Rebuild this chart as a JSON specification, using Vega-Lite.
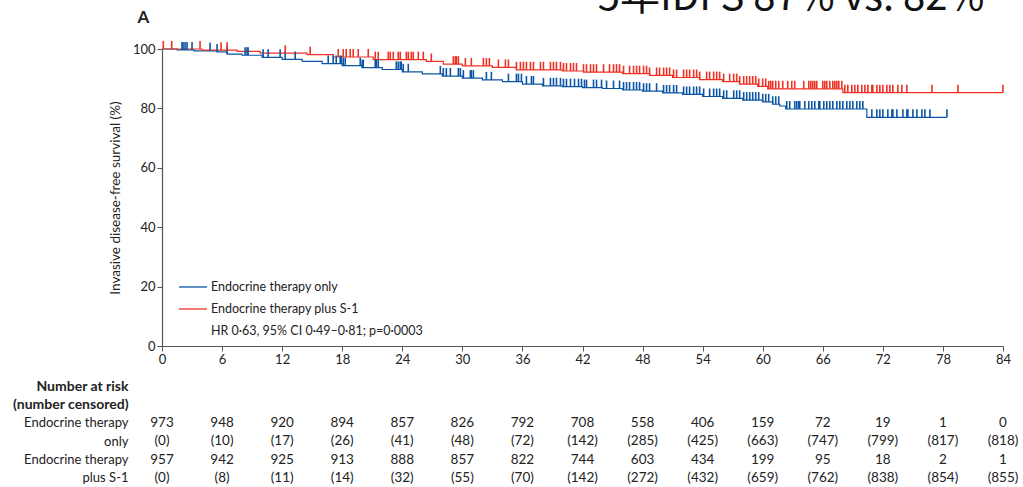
{
"$schema": "https://vega.github.io/schema/vega-lite/v6.json",
"autosize": "none",
"padding": {"left": 162, "top": 49, "right": 861, "bottom": 438},
"title": {"text": "5年IDFS 87% vs. 82%", "font": "Noto Sans CJK SC", "fontSize": 40, "fontWeight": "normal", "anchor": "end", "color": "#111", "dx": -34, "dy": 13},
"datasets": {
"km": [
{"arm":"Endocrine therapy only","t":0,"s":100},{"arm":"Endocrine therapy only","t":1.5,"s":99.7},{"arm":"Endocrine therapy only","t":3.2,"s":99.4},{"arm":"Endocrine therapy only","t":5.5,"s":99.0},{"arm":"Endocrine therapy only","t":6.5,"s":98.3},{"arm":"Endocrine therapy only","t":8,"s":97.9},{"arm":"Endocrine therapy only","t":10,"s":97.2},{"arm":"Endocrine therapy only","t":12,"s":96.5},{"arm":"Endocrine therapy only","t":14,"s":95.8},{"arm":"Endocrine therapy only","t":16,"s":95.1},{"arm":"Endocrine therapy only","t":18,"s":94.4},{"arm":"Endocrine therapy only","t":20,"s":93.7},{"arm":"Endocrine therapy only","t":22,"s":93.1},{"arm":"Endocrine therapy only","t":24,"s":92.3},{"arm":"Endocrine therapy only","t":26,"s":91.6},{"arm":"Endocrine therapy only","t":28,"s":90.9},{"arm":"Endocrine therapy only","t":30,"s":90.2},{"arm":"Endocrine therapy only","t":32,"s":89.6},{"arm":"Endocrine therapy only","t":34,"s":89.0},{"arm":"Endocrine therapy only","t":36,"s":88.2},{"arm":"Endocrine therapy only","t":38,"s":87.6},{"arm":"Endocrine therapy only","t":40,"s":87.3},{"arm":"Endocrine therapy only","t":42,"s":87.0},{"arm":"Endocrine therapy only","t":44,"s":86.7},{"arm":"Endocrine therapy only","t":46,"s":86.2},{"arm":"Endocrine therapy only","t":48,"s":85.8},{"arm":"Endocrine therapy only","t":50,"s":85.2},{"arm":"Endocrine therapy only","t":52,"s":84.7},{"arm":"Endocrine therapy only","t":54,"s":84.0},{"arm":"Endocrine therapy only","t":56,"s":83.4},{"arm":"Endocrine therapy only","t":58,"s":82.8},{"arm":"Endocrine therapy only","t":60,"s":82.2},{"arm":"Endocrine therapy only","t":61,"s":81.4},{"arm":"Endocrine therapy only","t":61.7,"s":80.8},{"arm":"Endocrine therapy only","t":62.3,"s":79.8},{"arm":"Endocrine therapy only","t":70.4,"s":77.0},{"arm":"Endocrine therapy only","t":78.4,"s":77.0},
{"arm":"Endocrine therapy plus S-1","t":0,"s":100},{"arm":"Endocrine therapy plus S-1","t":4,"s":99.6},{"arm":"Endocrine therapy plus S-1","t":7.5,"s":99.2},{"arm":"Endocrine therapy plus S-1","t":9.8,"s":98.6},{"arm":"Endocrine therapy plus S-1","t":14.5,"s":98.1},{"arm":"Endocrine therapy plus S-1","t":17.1,"s":97.3},{"arm":"Endocrine therapy plus S-1","t":21.1,"s":96.4},{"arm":"Endocrine therapy plus S-1","t":26.4,"s":95.8},{"arm":"Endocrine therapy plus S-1","t":28.1,"s":94.9},{"arm":"Endocrine therapy plus S-1","t":30,"s":94.3},{"arm":"Endocrine therapy plus S-1","t":33,"s":93.8},{"arm":"Endocrine therapy plus S-1","t":35.4,"s":93.0},{"arm":"Endocrine therapy plus S-1","t":40,"s":92.6},{"arm":"Endocrine therapy plus S-1","t":42.1,"s":92.2},{"arm":"Endocrine therapy plus S-1","t":46,"s":91.7},{"arm":"Endocrine therapy plus S-1","t":48.7,"s":91.1},{"arm":"Endocrine therapy plus S-1","t":51,"s":90.4},{"arm":"Endocrine therapy plus S-1","t":53.7,"s":89.7},{"arm":"Endocrine therapy plus S-1","t":56,"s":89.0},{"arm":"Endocrine therapy plus S-1","t":57.7,"s":88.2},{"arm":"Endocrine therapy plus S-1","t":59.5,"s":87.4},{"arm":"Endocrine therapy plus S-1","t":60.5,"s":86.6},{"arm":"Endocrine therapy plus S-1","t":68,"s":85.3},{"arm":"Endocrine therapy plus S-1","t":84,"s":85.3}
],
"cens": [
{"arm":"Endocrine therapy only","t":2.0,"s":99.7},{"arm":"Endocrine therapy only","t":2.1,"s":99.7},{"arm":"Endocrine therapy only","t":2.3,"s":99.7},{"arm":"Endocrine therapy only","t":2.5,"s":99.7},{"arm":"Endocrine therapy only","t":3.0,"s":99.7},{"arm":"Endocrine therapy only","t":4.8,"s":99.4},{"arm":"Endocrine therapy only","t":5.5,"s":99.0},{"arm":"Endocrine therapy only","t":6.5,"s":98.3},{"arm":"Endocrine therapy only","t":8.3,"s":97.9},{"arm":"Endocrine therapy only","t":8.5,"s":97.9},{"arm":"Endocrine therapy only","t":8.6,"s":97.9},{"arm":"Endocrine therapy only","t":10.1,"s":97.2},{"arm":"Endocrine therapy only","t":10.6,"s":97.2},{"arm":"Endocrine therapy only","t":11.8,"s":97.2},{"arm":"Endocrine therapy only","t":12.3,"s":96.5},{"arm":"Endocrine therapy only","t":13.3,"s":96.5},{"arm":"Endocrine therapy only","t":16.6,"s":95.1},{"arm":"Endocrine therapy only","t":17.1,"s":95.1},{"arm":"Endocrine therapy only","t":17.4,"s":95.1},{"arm":"Endocrine therapy only","t":17.8,"s":95.1},{"arm":"Endocrine therapy only","t":17.9,"s":95.1},{"arm":"Endocrine therapy only","t":18.1,"s":94.4},{"arm":"Endocrine therapy only","t":18.3,"s":94.4},{"arm":"Endocrine therapy only","t":19.8,"s":94.4},{"arm":"Endocrine therapy only","t":20.0,"s":93.7},{"arm":"Endocrine therapy only","t":20.1,"s":93.7},{"arm":"Endocrine therapy only","t":21.3,"s":93.7},{"arm":"Endocrine therapy only","t":21.4,"s":93.7},{"arm":"Endocrine therapy only","t":21.6,"s":93.7},{"arm":"Endocrine therapy only","t":23.4,"s":93.1},{"arm":"Endocrine therapy only","t":23.6,"s":93.1},{"arm":"Endocrine therapy only","t":23.8,"s":93.1},{"arm":"Endocrine therapy only","t":23.9,"s":93.1},{"arm":"Endocrine therapy only","t":24.1,"s":92.3},{"arm":"Endocrine therapy only","t":24.6,"s":92.3},{"arm":"Endocrine therapy only","t":27.8,"s":91.6},{"arm":"Endocrine therapy only","t":28.1,"s":90.9},{"arm":"Endocrine therapy only","t":28.4,"s":90.9},{"arm":"Endocrine therapy only","t":28.8,"s":90.9},{"arm":"Endocrine therapy only","t":29.6,"s":90.9},{"arm":"Endocrine therapy only","t":29.8,"s":90.9},{"arm":"Endocrine therapy only","t":30.1,"s":90.2},{"arm":"Endocrine therapy only","t":30.8,"s":90.2},{"arm":"Endocrine therapy only","t":30.9,"s":90.2},{"arm":"Endocrine therapy only","t":31.1,"s":90.2},{"arm":"Endocrine therapy only","t":32.4,"s":89.6},{"arm":"Endocrine therapy only","t":32.9,"s":89.6},{"arm":"Endocrine therapy only","t":34.6,"s":89.0},{"arm":"Endocrine therapy only","t":35.4,"s":89.0},{"arm":"Endocrine therapy only","t":35.6,"s":89.0},{"arm":"Endocrine therapy only","t":35.9,"s":89.0},{"arm":"Endocrine therapy only","t":36.4,"s":88.2},{"arm":"Endocrine therapy only","t":36.9,"s":88.2},{"arm":"Endocrine therapy only","t":37.1,"s":88.2},{"arm":"Endocrine therapy only","t":38.1,"s":87.6},{"arm":"Endocrine therapy only","t":38.8,"s":87.6},{"arm":"Endocrine therapy only","t":39.1,"s":87.6},{"arm":"Endocrine therapy only","t":39.4,"s":87.6},{"arm":"Endocrine therapy only","t":39.8,"s":87.6},{"arm":"Endocrine therapy only","t":40.1,"s":87.3},{"arm":"Endocrine therapy only","t":40.4,"s":87.3},{"arm":"Endocrine therapy only","t":40.8,"s":87.3},{"arm":"Endocrine therapy only","t":41.2,"s":87.3},{"arm":"Endocrine therapy only","t":41.6,"s":87.3},{"arm":"Endocrine therapy only","t":41.9,"s":87.3},{"arm":"Endocrine therapy only","t":42.2,"s":87.0},{"arm":"Endocrine therapy only","t":42.4,"s":87.0},{"arm":"Endocrine therapy only","t":43.1,"s":87.0},{"arm":"Endocrine therapy only","t":43.4,"s":87.0},{"arm":"Endocrine therapy only","t":43.9,"s":87.0},{"arm":"Endocrine therapy only","t":44.4,"s":86.7},{"arm":"Endocrine therapy only","t":45.1,"s":86.7},{"arm":"Endocrine therapy only","t":45.7,"s":86.7},{"arm":"Endocrine therapy only","t":46.1,"s":86.2},{"arm":"Endocrine therapy only","t":46.4,"s":86.2},{"arm":"Endocrine therapy only","t":46.7,"s":86.2},{"arm":"Endocrine therapy only","t":47.1,"s":86.2},{"arm":"Endocrine therapy only","t":47.4,"s":86.2},{"arm":"Endocrine therapy only","t":47.7,"s":86.2},{"arm":"Endocrine therapy only","t":48.1,"s":85.8},{"arm":"Endocrine therapy only","t":48.4,"s":85.8},{"arm":"Endocrine therapy only","t":48.7,"s":85.8},{"arm":"Endocrine therapy only","t":49.4,"s":85.8},{"arm":"Endocrine therapy only","t":50.1,"s":85.2},{"arm":"Endocrine therapy only","t":50.4,"s":85.2},{"arm":"Endocrine therapy only","t":50.7,"s":85.2},{"arm":"Endocrine therapy only","t":51.1,"s":85.2},{"arm":"Endocrine therapy only","t":51.4,"s":85.2},{"arm":"Endocrine therapy only","t":52.1,"s":84.7},{"arm":"Endocrine therapy only","t":52.4,"s":84.7},{"arm":"Endocrine therapy only","t":52.7,"s":84.7},{"arm":"Endocrine therapy only","t":53.1,"s":84.7},{"arm":"Endocrine therapy only","t":53.4,"s":84.7},{"arm":"Endocrine therapy only","t":53.7,"s":84.7},{"arm":"Endocrine therapy only","t":54.1,"s":84.0},{"arm":"Endocrine therapy only","t":54.7,"s":84.0},{"arm":"Endocrine therapy only","t":55.1,"s":84.0},{"arm":"Endocrine therapy only","t":55.4,"s":84.0},{"arm":"Endocrine therapy only","t":55.7,"s":84.0},{"arm":"Endocrine therapy only","t":56.1,"s":83.4},{"arm":"Endocrine therapy only","t":56.4,"s":83.4},{"arm":"Endocrine therapy only","t":57.1,"s":83.4},{"arm":"Endocrine therapy only","t":57.4,"s":83.4},{"arm":"Endocrine therapy only","t":57.7,"s":83.4},{"arm":"Endocrine therapy only","t":58.1,"s":82.8},{"arm":"Endocrine therapy only","t":58.4,"s":82.8},{"arm":"Endocrine therapy only","t":58.7,"s":82.8},{"arm":"Endocrine therapy only","t":59.0,"s":82.8},{"arm":"Endocrine therapy only","t":59.3,"s":82.8},{"arm":"Endocrine therapy only","t":59.6,"s":82.8},{"arm":"Endocrine therapy only","t":60.0,"s":82.2},{"arm":"Endocrine therapy only","t":60.3,"s":82.2},{"arm":"Endocrine therapy only","t":60.6,"s":82.2},{"arm":"Endocrine therapy only","t":61.0,"s":81.4},{"arm":"Endocrine therapy only","t":61.3,"s":81.4},{"arm":"Endocrine therapy only","t":61.6,"s":81.4},{"arm":"Endocrine therapy only","t":62.4,"s":79.8},{"arm":"Endocrine therapy only","t":62.7,"s":79.8},{"arm":"Endocrine therapy only","t":63.2,"s":79.8},{"arm":"Endocrine therapy only","t":63.4,"s":79.8},{"arm":"Endocrine therapy only","t":63.6,"s":79.8},{"arm":"Endocrine therapy only","t":63.7,"s":79.8},{"arm":"Endocrine therapy only","t":64.2,"s":79.8},{"arm":"Endocrine therapy only","t":64.6,"s":79.8},{"arm":"Endocrine therapy only","t":64.9,"s":79.8},{"arm":"Endocrine therapy only","t":65.2,"s":79.8},{"arm":"Endocrine therapy only","t":65.6,"s":79.8},{"arm":"Endocrine therapy only","t":65.7,"s":79.8},{"arm":"Endocrine therapy only","t":66.1,"s":79.8},{"arm":"Endocrine therapy only","t":66.4,"s":79.8},{"arm":"Endocrine therapy only","t":66.7,"s":79.8},{"arm":"Endocrine therapy only","t":67.0,"s":79.8},{"arm":"Endocrine therapy only","t":67.4,"s":79.8},{"arm":"Endocrine therapy only","t":67.7,"s":79.8},{"arm":"Endocrine therapy only","t":68.0,"s":79.8},{"arm":"Endocrine therapy only","t":68.4,"s":79.8},{"arm":"Endocrine therapy only","t":68.7,"s":79.8},{"arm":"Endocrine therapy only","t":69.0,"s":79.8},{"arm":"Endocrine therapy only","t":69.4,"s":79.8},{"arm":"Endocrine therapy only","t":69.7,"s":79.8},{"arm":"Endocrine therapy only","t":70.0,"s":79.8},{"arm":"Endocrine therapy only","t":70.9,"s":77.0},{"arm":"Endocrine therapy only","t":71.4,"s":77.0},{"arm":"Endocrine therapy only","t":71.7,"s":77.0},{"arm":"Endocrine therapy only","t":72.0,"s":77.0},{"arm":"Endocrine therapy only","t":72.5,"s":77.0},{"arm":"Endocrine therapy only","t":72.9,"s":77.0},{"arm":"Endocrine therapy only","t":73.0,"s":77.0},{"arm":"Endocrine therapy only","t":73.4,"s":77.0},{"arm":"Endocrine therapy only","t":74.0,"s":77.0},{"arm":"Endocrine therapy only","t":74.4,"s":77.0},{"arm":"Endocrine therapy only","t":74.5,"s":77.0},{"arm":"Endocrine therapy only","t":75.0,"s":77.0},{"arm":"Endocrine therapy only","t":75.4,"s":77.0},{"arm":"Endocrine therapy only","t":75.9,"s":77.0},{"arm":"Endocrine therapy only","t":76.2,"s":77.0},{"arm":"Endocrine therapy only","t":76.7,"s":77.0},{"arm":"Endocrine therapy only","t":78.4,"s":77.0},
{"arm":"Endocrine therapy plus S-1","t":0.13,"s":100},{"arm":"Endocrine therapy plus S-1","t":0.97,"s":100},{"arm":"Endocrine therapy plus S-1","t":3.8,"s":100},{"arm":"Endocrine therapy plus S-1","t":5.9,"s":99.6},{"arm":"Endocrine therapy plus S-1","t":6.5,"s":99.6},{"arm":"Endocrine therapy plus S-1","t":12.3,"s":98.6},{"arm":"Endocrine therapy plus S-1","t":14.8,"s":98.1},{"arm":"Endocrine therapy plus S-1","t":17.6,"s":97.3},{"arm":"Endocrine therapy plus S-1","t":18.1,"s":97.3},{"arm":"Endocrine therapy plus S-1","t":18.4,"s":97.3},{"arm":"Endocrine therapy plus S-1","t":18.8,"s":97.3},{"arm":"Endocrine therapy plus S-1","t":19.1,"s":97.3},{"arm":"Endocrine therapy plus S-1","t":19.6,"s":97.3},{"arm":"Endocrine therapy plus S-1","t":20.6,"s":97.3},{"arm":"Endocrine therapy plus S-1","t":21.3,"s":96.4},{"arm":"Endocrine therapy plus S-1","t":21.6,"s":96.4},{"arm":"Endocrine therapy plus S-1","t":22.6,"s":96.4},{"arm":"Endocrine therapy plus S-1","t":22.8,"s":96.4},{"arm":"Endocrine therapy plus S-1","t":23.1,"s":96.4},{"arm":"Endocrine therapy plus S-1","t":23.6,"s":96.4},{"arm":"Endocrine therapy plus S-1","t":23.8,"s":96.4},{"arm":"Endocrine therapy plus S-1","t":24.4,"s":96.4},{"arm":"Endocrine therapy plus S-1","t":24.6,"s":96.4},{"arm":"Endocrine therapy plus S-1","t":24.9,"s":96.4},{"arm":"Endocrine therapy plus S-1","t":25.1,"s":96.4},{"arm":"Endocrine therapy plus S-1","t":25.6,"s":96.4},{"arm":"Endocrine therapy plus S-1","t":26.1,"s":96.4},{"arm":"Endocrine therapy plus S-1","t":26.9,"s":95.8},{"arm":"Endocrine therapy plus S-1","t":29.1,"s":94.9},{"arm":"Endocrine therapy plus S-1","t":29.3,"s":94.9},{"arm":"Endocrine therapy plus S-1","t":29.4,"s":94.9},{"arm":"Endocrine therapy plus S-1","t":29.6,"s":94.9},{"arm":"Endocrine therapy plus S-1","t":30.3,"s":94.3},{"arm":"Endocrine therapy plus S-1","t":30.9,"s":94.3},{"arm":"Endocrine therapy plus S-1","t":32.1,"s":94.3},{"arm":"Endocrine therapy plus S-1","t":32.4,"s":94.3},{"arm":"Endocrine therapy plus S-1","t":32.7,"s":94.3},{"arm":"Endocrine therapy plus S-1","t":33.6,"s":93.8},{"arm":"Endocrine therapy plus S-1","t":34.3,"s":93.8},{"arm":"Endocrine therapy plus S-1","t":34.6,"s":93.8},{"arm":"Endocrine therapy plus S-1","t":35.4,"s":93.0},{"arm":"Endocrine therapy plus S-1","t":35.8,"s":93.0},{"arm":"Endocrine therapy plus S-1","t":36.1,"s":93.0},{"arm":"Endocrine therapy plus S-1","t":36.4,"s":93.0},{"arm":"Endocrine therapy plus S-1","t":36.8,"s":93.0},{"arm":"Endocrine therapy plus S-1","t":37.1,"s":93.0},{"arm":"Endocrine therapy plus S-1","t":37.8,"s":93.0},{"arm":"Endocrine therapy plus S-1","t":38.1,"s":93.0},{"arm":"Endocrine therapy plus S-1","t":38.8,"s":93.0},{"arm":"Endocrine therapy plus S-1","t":39.1,"s":93.0},{"arm":"Endocrine therapy plus S-1","t":39.4,"s":93.0},{"arm":"Endocrine therapy plus S-1","t":39.8,"s":93.0},{"arm":"Endocrine therapy plus S-1","t":40.1,"s":92.6},{"arm":"Endocrine therapy plus S-1","t":40.4,"s":92.6},{"arm":"Endocrine therapy plus S-1","t":40.8,"s":92.6},{"arm":"Endocrine therapy plus S-1","t":41.1,"s":92.6},{"arm":"Endocrine therapy plus S-1","t":41.4,"s":92.6},{"arm":"Endocrine therapy plus S-1","t":42.1,"s":92.2},{"arm":"Endocrine therapy plus S-1","t":42.4,"s":92.2},{"arm":"Endocrine therapy plus S-1","t":42.8,"s":92.2},{"arm":"Endocrine therapy plus S-1","t":43.1,"s":92.2},{"arm":"Endocrine therapy plus S-1","t":43.4,"s":92.2},{"arm":"Endocrine therapy plus S-1","t":44.1,"s":92.2},{"arm":"Endocrine therapy plus S-1","t":44.7,"s":92.2},{"arm":"Endocrine therapy plus S-1","t":45.1,"s":92.2},{"arm":"Endocrine therapy plus S-1","t":45.4,"s":92.2},{"arm":"Endocrine therapy plus S-1","t":45.7,"s":92.2},{"arm":"Endocrine therapy plus S-1","t":46.1,"s":91.7},{"arm":"Endocrine therapy plus S-1","t":46.7,"s":91.7},{"arm":"Endocrine therapy plus S-1","t":47.1,"s":91.7},{"arm":"Endocrine therapy plus S-1","t":47.4,"s":91.7},{"arm":"Endocrine therapy plus S-1","t":47.7,"s":91.7},{"arm":"Endocrine therapy plus S-1","t":48.1,"s":91.7},{"arm":"Endocrine therapy plus S-1","t":48.4,"s":91.7},{"arm":"Endocrine therapy plus S-1","t":48.7,"s":91.1},{"arm":"Endocrine therapy plus S-1","t":49.4,"s":91.1},{"arm":"Endocrine therapy plus S-1","t":49.7,"s":91.1},{"arm":"Endocrine therapy plus S-1","t":50.1,"s":91.1},{"arm":"Endocrine therapy plus S-1","t":50.4,"s":91.1},{"arm":"Endocrine therapy plus S-1","t":50.7,"s":91.1},{"arm":"Endocrine therapy plus S-1","t":51.1,"s":90.4},{"arm":"Endocrine therapy plus S-1","t":51.4,"s":90.4},{"arm":"Endocrine therapy plus S-1","t":52.1,"s":90.4},{"arm":"Endocrine therapy plus S-1","t":52.4,"s":90.4},{"arm":"Endocrine therapy plus S-1","t":52.7,"s":90.4},{"arm":"Endocrine therapy plus S-1","t":53.1,"s":90.4},{"arm":"Endocrine therapy plus S-1","t":53.4,"s":90.4},{"arm":"Endocrine therapy plus S-1","t":53.7,"s":89.7},{"arm":"Endocrine therapy plus S-1","t":54.4,"s":89.7},{"arm":"Endocrine therapy plus S-1","t":54.7,"s":89.7},{"arm":"Endocrine therapy plus S-1","t":55.1,"s":89.7},{"arm":"Endocrine therapy plus S-1","t":55.4,"s":89.7},{"arm":"Endocrine therapy plus S-1","t":55.7,"s":89.7},{"arm":"Endocrine therapy plus S-1","t":56.1,"s":89.0},{"arm":"Endocrine therapy plus S-1","t":56.7,"s":89.0},{"arm":"Endocrine therapy plus S-1","t":57.1,"s":89.0},{"arm":"Endocrine therapy plus S-1","t":57.4,"s":89.0},{"arm":"Endocrine therapy plus S-1","t":57.7,"s":88.2},{"arm":"Endocrine therapy plus S-1","t":58.1,"s":88.2},{"arm":"Endocrine therapy plus S-1","t":58.4,"s":88.2},{"arm":"Endocrine therapy plus S-1","t":58.7,"s":88.2},{"arm":"Endocrine therapy plus S-1","t":59.0,"s":88.2},{"arm":"Endocrine therapy plus S-1","t":59.3,"s":88.2},{"arm":"Endocrine therapy plus S-1","t":59.6,"s":87.4},{"arm":"Endocrine therapy plus S-1","t":60.0,"s":87.4},{"arm":"Endocrine therapy plus S-1","t":60.3,"s":87.4},{"arm":"Endocrine therapy plus S-1","t":60.6,"s":86.6},{"arm":"Endocrine therapy plus S-1","t":60.8,"s":86.6},{"arm":"Endocrine therapy plus S-1","t":61.0,"s":86.6},{"arm":"Endocrine therapy plus S-1","t":61.3,"s":86.6},{"arm":"Endocrine therapy plus S-1","t":61.6,"s":86.6},{"arm":"Endocrine therapy plus S-1","t":62.0,"s":86.6},{"arm":"Endocrine therapy plus S-1","t":62.5,"s":86.6},{"arm":"Endocrine therapy plus S-1","t":62.9,"s":86.6},{"arm":"Endocrine therapy plus S-1","t":63.2,"s":86.6},{"arm":"Endocrine therapy plus S-1","t":64.1,"s":86.6},{"arm":"Endocrine therapy plus S-1","t":64.6,"s":86.6},{"arm":"Endocrine therapy plus S-1","t":64.8,"s":86.6},{"arm":"Endocrine therapy plus S-1","t":65.0,"s":86.6},{"arm":"Endocrine therapy plus S-1","t":65.2,"s":86.6},{"arm":"Endocrine therapy plus S-1","t":65.4,"s":86.6},{"arm":"Endocrine therapy plus S-1","t":66.0,"s":86.6},{"arm":"Endocrine therapy plus S-1","t":66.2,"s":86.6},{"arm":"Endocrine therapy plus S-1","t":66.4,"s":86.6},{"arm":"Endocrine therapy plus S-1","t":66.7,"s":86.6},{"arm":"Endocrine therapy plus S-1","t":67.0,"s":86.6},{"arm":"Endocrine therapy plus S-1","t":67.2,"s":86.6},{"arm":"Endocrine therapy plus S-1","t":67.4,"s":86.6},{"arm":"Endocrine therapy plus S-1","t":67.6,"s":86.6},{"arm":"Endocrine therapy plus S-1","t":67.9,"s":86.6},{"arm":"Endocrine therapy plus S-1","t":68.2,"s":85.3},{"arm":"Endocrine therapy plus S-1","t":68.5,"s":85.3},{"arm":"Endocrine therapy plus S-1","t":68.9,"s":85.3},{"arm":"Endocrine therapy plus S-1","t":69.2,"s":85.3},{"arm":"Endocrine therapy plus S-1","t":69.5,"s":85.3},{"arm":"Endocrine therapy plus S-1","t":69.9,"s":85.3},{"arm":"Endocrine therapy plus S-1","t":70.2,"s":85.3},{"arm":"Endocrine therapy plus S-1","t":70.5,"s":85.3},{"arm":"Endocrine therapy plus S-1","t":70.9,"s":85.3},{"arm":"Endocrine therapy plus S-1","t":71.0,"s":85.3},{"arm":"Endocrine therapy plus S-1","t":71.4,"s":85.3},{"arm":"Endocrine therapy plus S-1","t":71.7,"s":85.3},{"arm":"Endocrine therapy plus S-1","t":72.0,"s":85.3},{"arm":"Endocrine therapy plus S-1","t":72.4,"s":85.3},{"arm":"Endocrine therapy plus S-1","t":72.7,"s":85.3},{"arm":"Endocrine therapy plus S-1","t":73.0,"s":85.3},{"arm":"Endocrine therapy plus S-1","t":73.5,"s":85.3},{"arm":"Endocrine therapy plus S-1","t":73.9,"s":85.3},{"arm":"Endocrine therapy plus S-1","t":74.4,"s":85.3},{"arm":"Endocrine therapy plus S-1","t":76.9,"s":85.3},{"arm":"Endocrine therapy plus S-1","t":79.5,"s":85.3},{"arm":"Endocrine therapy plus S-1","t":84.0,"s":85.3}
],
"risk": [
{"arm":"Endocrine therapy only","month":0,"atrisk":973,"censored":0},{"arm":"Endocrine therapy only","month":6,"atrisk":948,"censored":10},{"arm":"Endocrine therapy only","month":12,"atrisk":920,"censored":17},{"arm":"Endocrine therapy only","month":18,"atrisk":894,"censored":26},{"arm":"Endocrine therapy only","month":24,"atrisk":857,"censored":41},{"arm":"Endocrine therapy only","month":30,"atrisk":826,"censored":48},{"arm":"Endocrine therapy only","month":36,"atrisk":792,"censored":72},{"arm":"Endocrine therapy only","month":42,"atrisk":708,"censored":142},{"arm":"Endocrine therapy only","month":48,"atrisk":558,"censored":285},{"arm":"Endocrine therapy only","month":54,"atrisk":406,"censored":425},{"arm":"Endocrine therapy only","month":60,"atrisk":159,"censored":663},{"arm":"Endocrine therapy only","month":66,"atrisk":72,"censored":747},{"arm":"Endocrine therapy only","month":72,"atrisk":19,"censored":799},{"arm":"Endocrine therapy only","month":78,"atrisk":1,"censored":817},{"arm":"Endocrine therapy only","month":84,"atrisk":0,"censored":818},
{"arm":"Endocrine therapy plus S-1","month":0,"atrisk":957,"censored":0},{"arm":"Endocrine therapy plus S-1","month":6,"atrisk":942,"censored":8},{"arm":"Endocrine therapy plus S-1","month":12,"atrisk":925,"censored":11},{"arm":"Endocrine therapy plus S-1","month":18,"atrisk":913,"censored":14},{"arm":"Endocrine therapy plus S-1","month":24,"atrisk":888,"censored":32},{"arm":"Endocrine therapy plus S-1","month":30,"atrisk":857,"censored":55},{"arm":"Endocrine therapy plus S-1","month":36,"atrisk":822,"censored":70},{"arm":"Endocrine therapy plus S-1","month":42,"atrisk":744,"censored":142},{"arm":"Endocrine therapy plus S-1","month":48,"atrisk":603,"censored":272},{"arm":"Endocrine therapy plus S-1","month":54,"atrisk":434,"censored":432},{"arm":"Endocrine therapy plus S-1","month":60,"atrisk":199,"censored":659},{"arm":"Endocrine therapy plus S-1","month":66,"atrisk":95,"censored":762},{"arm":"Endocrine therapy plus S-1","month":72,"atrisk":18,"censored":838},{"arm":"Endocrine therapy plus S-1","month":78,"atrisk":2,"censored":854},{"arm":"Endocrine therapy plus S-1","month":84,"atrisk":1,"censored":855}
]
},
"spacing": 11,
"vconcat": [
{
"width": 841, "height": 297,
"title": {"text": "A", "anchor": "start", "frame": "bounds", "fontSize": 17, "fontWeight": "bold", "font": "Lato", "color": "#222", "dx": 29, "offset": 14},
"layer": [
{"data": {"name": "km"},
 "mark": {"type": "line", "interpolate": "step-after", "strokeWidth": 1.2},
 "encoding": {
  "x": {"field": "t", "type": "quantitative", "scale": {"domain": [0, 84], "nice": false},
        "axis": {"values": [0,6,12,18,24,30,36,42,48,54,60,66,72,78,84], "title": null, "grid": false, "tickSize": 5, "labelFontSize": 13, "labelPadding": 2, "labelFont": "Lato", "labelColor": "#222", "domainColor": "#555", "tickColor": "#555", "domainWidth": 1.2, "labelFlush": false}},
  "y": {"field": "s", "type": "quantitative", "scale": {"domain": [0, 100], "nice": false},
        "axis": {"values": [0,20,40,60,80,100], "title": "Invasive disease-free survival (%)", "grid": false, "tickSize": 5, "labelFontSize": 13, "labelPadding": 2, "labelFont": "Lato", "labelColor": "#222", "domainColor": "#555", "tickColor": "#555", "domainWidth": 1.2, "titleFont": "Lato", "titleFontSize": 13.5, "titleFontWeight": "normal", "titleColor": "#222", "titlePadding": 10, "labelFlush": false}},
  "color": {"field": "arm", "type": "nominal",
        "scale": {"domain": ["Endocrine therapy only", "Endocrine therapy plus S-1", "HR 0·63, 95% CI 0·49–0·81; p=0·0003"], "range": ["#0b56a4", "#ee3124", "transparent"]},
        "legend": {"orient": "none", "legendX": 16, "legendY": 223, "title": null, "symbolType": "stroke", "symbolSize": 784, "symbolStrokeWidth": 1.3, "labelFont": "Lato", "labelFontSize": 12.5, "labelColor": "#222", "rowPadding": -16, "padding": 0, "labelOffset": 3, "labelLimit": 400}}
 }},
{"data": {"name": "cens"},
 "mark": {"type": "tick", "orient": "vertical", "size": 8, "thickness": 1.6, "yOffset": -4, "opacity": 1},
 "encoding": {
  "x": {"field": "t", "type": "quantitative"},
  "y": {"field": "s", "type": "quantitative"},
  "color": {"field": "arm", "type": "nominal"}
 }}
]
},
{
"width": 841, "height": 110,
"data": {"name": "risk"},
"encoding": {
  "x": {"field": "month", "type": "quantitative", "scale": {"domain": [0, 84], "nice": false}, "axis": null}
},
"layer": [
{"transform": [{"filter": "datum.arm == 'Endocrine therapy only'"}],
 "mark": {"type": "text", "font": "Lato", "fontSize": 13.5, "color": "#222"},
 "encoding": {"text": {"field": "atrisk", "type": "quantitative"},
   "y": {"datum": "r1", "type": "nominal", "scale": {"type": "point", "domain": ["h1","h2","r1","r2","r3","r4"], "padding": 0.5},
     "axis": {"title": null, "domain": false, "ticks": false, "labelPadding": 34, "minExtent": 150, "maxExtent": 150, "labelFont": "Lato", "labelColor": "#222", "labelLimit": 300,
       "labelFontSize": {"condition": {"test": "datum.value == 'h1' || datum.value == 'h2'", "value": 14}, "value": 13},
       "labelFontWeight": {"condition": {"test": "datum.value == 'h1' || datum.value == 'h2'", "value": "bold"}, "value": "normal"},
       "labelExpr": "datum.value == 'h1' ? 'Number at risk' : datum.value == 'h2' ? '(number censored)' : datum.value == 'r1' || datum.value == 'r3' ? 'Endocrine therapy' : datum.value == 'r2' ? 'only' : 'plus S-1'"}}}},
{"transform": [{"filter": "datum.arm == 'Endocrine therapy only'"}],
 "mark": {"type": "text", "font": "Lato", "fontSize": 13.5, "color": "#222", "text": {"expr": "'(' + datum.censored + ')'"}},
 "encoding": {"y": {"datum": "r2", "type": "nominal"}}},
{"transform": [{"filter": "datum.arm == 'Endocrine therapy plus S-1'"}],
 "mark": {"type": "text", "font": "Lato", "fontSize": 13.5, "color": "#222"},
 "encoding": {"text": {"field": "atrisk", "type": "quantitative"}, "y": {"datum": "r3", "type": "nominal"}}},
{"transform": [{"filter": "datum.arm == 'Endocrine therapy plus S-1'"}],
 "mark": {"type": "text", "font": "Lato", "fontSize": 13.5, "color": "#222", "text": {"expr": "'(' + datum.censored + ')'"}},
 "encoding": {"y": {"datum": "r4", "type": "nominal"}}}
]
}
],
"config": {"view": {"stroke": null}, "font": "Lato"}
}
